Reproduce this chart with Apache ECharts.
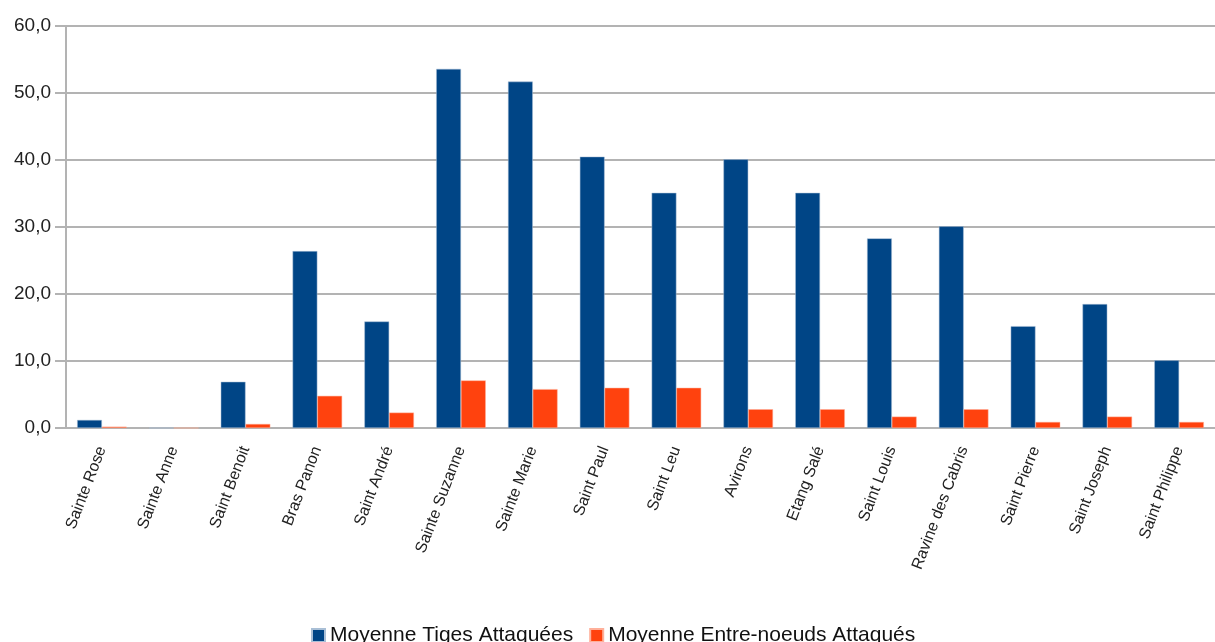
<!DOCTYPE html>
<html>
<head>
<meta charset="utf-8">
<script src="https://cdn.jsdelivr.net/npm/echarts@6/dist/echarts.min.js"></script>
<style>
  html, body { margin: 0; padding: 0; background: #fff; }
</style>
</head>
<body>
<div id="chart" style="width: 1215px; height: 642px;"></div>
<script>
const communes = ['Sainte Rose', 'Sainte Anne', 'Saint Benoit', 'Bras Panon', 'Saint André',
  'Sainte Suzanne', 'Sainte Marie', 'Saint Paul', 'Saint Leu', 'Avirons', 'Etang Salé',
  'Saint Louis', 'Ravine des Cabris', 'Saint Pierre', 'Saint Joseph', 'Saint Philippe'];
const tigesAttaquees = [1.2, 0, 6.9, 26.4, 15.9, 53.6, 51.7, 40.5, 35.1, 40.1, 35.1, 28.3, 30.1, 15.2, 18.5, 10.1];
const entreNoeudsAttaques = [0.2, 0, 0.6, 4.8, 2.3, 7.1, 5.8, 6.0, 6.0, 2.8, 2.8, 1.7, 2.8, 0.9, 1.7, 0.9];
const seriesNames = ['Moyenne Tiges Attaquées', 'Moyenne Entre-noeuds Attaqués'];

const chartDom = document.getElementById('chart');
const myChart = echarts.init(chartDom);
const option = {
  animation: false,
  textStyle: { fontFamily: 'Liberation Sans, Arial, sans-serif' },
  color: ['#004586', '#ff420e'],
  grid: {
    left: 66,
    top: 26,
    bottom: 214,
    width: 1160
  },
  legend: {
    top: 620,
    left: 306,
    icon: 'rect',
    itemWidth: 13,
    itemHeight: 13,
    itemGap: 16,
    textStyle: { fontSize: 21, color: '#111' },
    data: seriesNames
  },
  xAxis: {
    type: 'category',
    data: communes,
    axisLine: { lineStyle: { color: '#b3b3b3', width: 2 } },
    axisTick: { length: 10, lineStyle: { color: '#b3b3b3', width: 2 } },
    axisLabel: {
      rotate: 69,
      interval: 0,
      margin: 19,
      fontSize: 16,
      color: '#222'
    }
  },
  yAxis: {
    type: 'value',
    min: 0,
    max: 60,
    interval: 10,
    axisLine: { show: true, lineStyle: { color: '#b3b3b3', width: 2 } },
    axisTick: { show: true, length: 11, lineStyle: { color: '#b3b3b3', width: 2 } },
    splitLine: { lineStyle: { color: '#b3b3b3', width: 2 } },
    axisLabel: {
      fontSize: 19,
      color: '#222',
      margin: 15,
      formatter: (v) => v.toFixed(1).replace('.', ',')
    }
  },
  series: [
    {
      name: seriesNames[0],
      type: 'bar',
      barGap: 0,
      barCategoryGap: '31%',
      itemStyle: { borderColor: '#a9bfd6', borderWidth: 0.5 },
      data: tigesAttaquees
    },
    {
      name: seriesNames[1],
      type: 'bar',
      itemStyle: { borderColor: '#ffb09a', borderWidth: 0.5 },
      data: entreNoeudsAttaques
    }
  ]
};
myChart.setOption(option);
</script>
</body>
</html>
